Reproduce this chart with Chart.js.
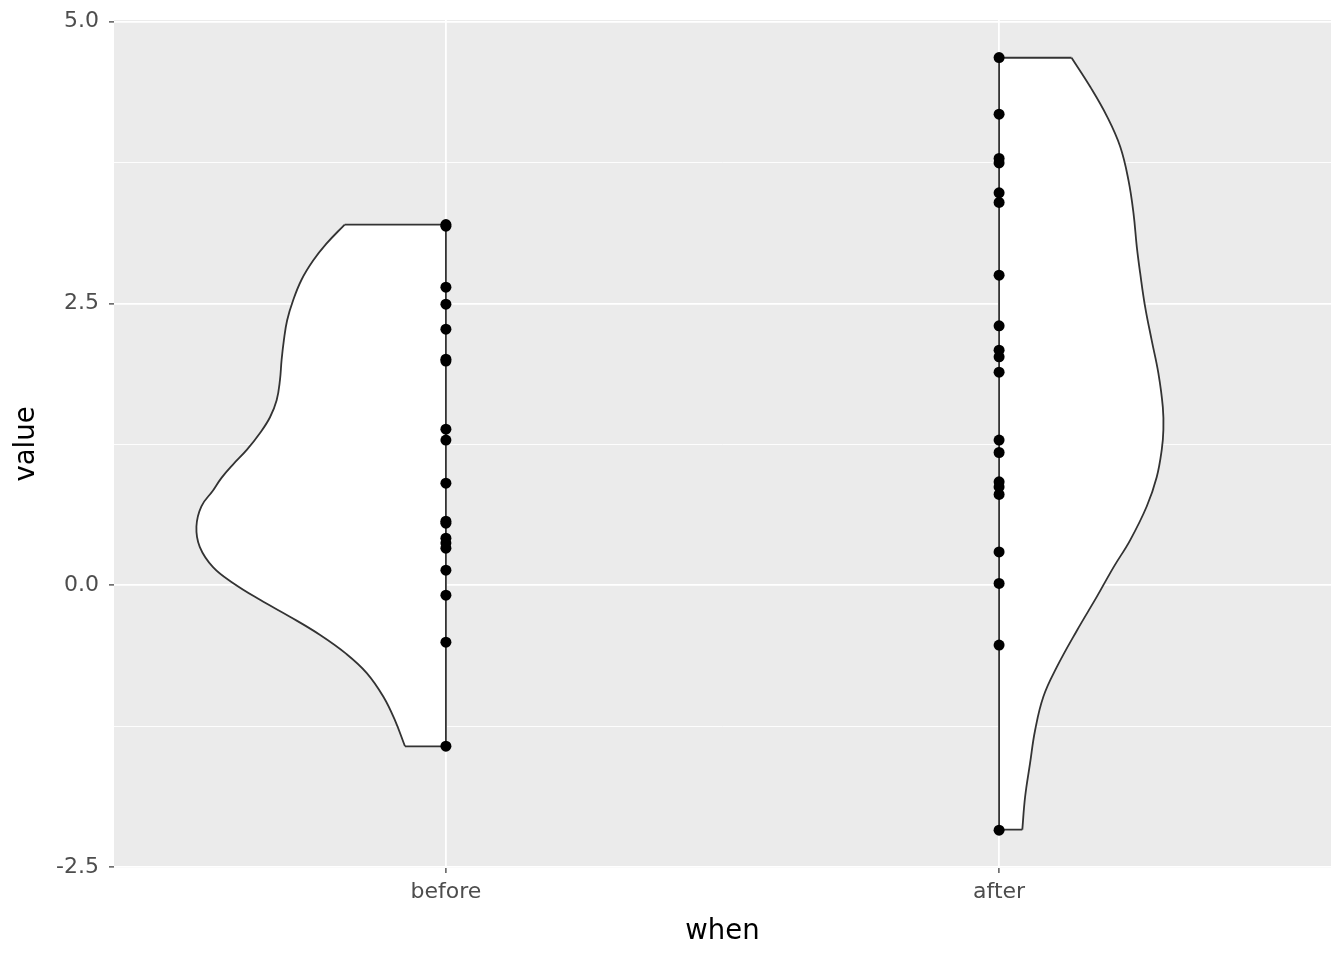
<!DOCTYPE html>
<html>
<head>
<meta charset="utf-8">
<script src="https://cdn.jsdelivr.net/npm/chart.js@4.4.0/dist/chart.umd.min.js"></script>
<style>
    html, body { margin: 0; padding: 0; background: #fff; }
    #wrap { width: 1344px; height: 960px; }
</style>
</head>
<body>
<div id="wrap"><canvas id="chart" width="1344" height="960"></canvas></div>
<script>
const categories = ['before', 'after']

// raw points
const beforeValues = [3.20, 3.185, 2.644, 2.493, 2.271, 2.005, 1.988, 1.384, 1.287, 0.905,
    0.568, 0.550, 0.417, 0.373, 0.328, 0.133, -0.089, -0.506, -1.429]
const afterValues = [4.682, 4.179, 3.786, 3.747, 3.481, 3.396, 2.751, 2.301, 2.085, 2.026,
    1.890, 1.287, 1.177, 0.917, 0.872, 0.805, 0.295, 0.015, -0.532, -2.174]

// half violin outlines (value, half width in category units), top to bottom
const beforeOutlineY = [3.20, 3.03, 2.88, 2.71, 2.53, 2.35, 2.17, 2.00, 1.82, 1.64, 1.49, 1.35, 1.20, 1.07,
    0.95, 0.84, 0.70, 0.52, 0.34, 0.16, 0.02, -0.13, -0.28, -0.44, -0.61, -0.78, -0.99, -1.20, -1.43]
const beforeOutlineW = [0.183, 0.216, 0.240, 0.261, 0.276, 0.287, 0.293, 0.297, 0.300, 0.306, 0.318, 0.336, 0.360, 0.385,
    0.406, 0.421, 0.442, 0.451, 0.445, 0.421, 0.385, 0.336, 0.282, 0.228, 0.180, 0.143, 0.113, 0.092, 0.074]
const afterOutlineY = [4.68, 4.42, 4.16, 3.89, 3.59, 3.30, 3.00, 2.77, 2.47, 2.17, 1.88, 1.58, 1.38,
    1.20, 0.96, 0.70, 0.40, 0.16, -0.10, -0.40, -0.73, -0.99, -1.29, -1.58, -1.88, -2.17]
const afterOutlineW = [0.131, 0.165, 0.195, 0.219, 0.234, 0.243, 0.249, 0.255, 0.264, 0.276, 0.288, 0.296, 0.297,
    0.294, 0.285, 0.267, 0.237, 0.207, 0.177, 0.141, 0.104, 0.080, 0.065, 0.056, 0.047, 0.042]

const yMajorTicks = [-2.5, 0, 2.5, 5]
const yMinorTicks = [-1.25, 1.25, 3.75]

const lineColor = '#333333'

function curvePoints(pos, side, ys, ws){
    return ys.map((y, i) => ({x: pos + side * ws[i], y: y}))
}

// closed shape: centre top -> curve -> centre bottom -> back up
function halfViolin(pos, side, ys, ws){
    let pts = [{x: pos, y: ys[0]}]
    pts = pts.concat(curvePoints(pos, side, ys, ws))
    pts.push({x: pos, y: ys[ys.length - 1]})
    pts.push({x: pos, y: ys[0]})
    return pts
}

// flat top, centre line and flat bottom
function straightEdges(pos, side, ys, ws){
    const n = ys.length - 1
    return [
        {x: pos + side * ws[0], y: ys[0]},
        {x: pos, y: ys[0]},
        {x: pos, y: ys[n]},
        {x: pos + side * ws[n], y: ys[n]}
    ]
}

function isMajor(v){
    return yMajorTicks.some(t => Math.abs(t - v) < 1e-6)
}

const panelBg = {
    id: 'panelBg',
    beforeDraw(chart){
        const {ctx, chartArea: a} = chart
        ctx.save()
        ctx.fillStyle = '#EBEBEB'
        ctx.fillRect(a.left, a.top, a.right - a.left, a.bottom - a.top)
        ctx.restore()
    }
}

const font = 'DejaVu Sans'

function fillDataset(label, pos, side, ys, ws){
    return {
        label: label,
        data: halfViolin(pos, side, ys, ws),
        showLine: true,
        fill: 'shape',
        backgroundColor: '#ffffff',
        borderColor: 'rgba(0,0,0,0)',
        borderWidth: 1,
        pointRadius: 0,
        tension: 0,
        order: 4
    }
}

function edgeDataset(label, pos, side, ys, ws){
    return {
        label: label,
        data: straightEdges(pos, side, ys, ws),
        showLine: true,
        fill: false,
        borderColor: lineColor,
        borderWidth: 1.8,
        pointRadius: 0,
        tension: 0,
        order: 3
    }
}

function outlineDataset(label, pos, side, ys, ws){
    return {
        label: label,
        data: curvePoints(pos, side, ys, ws),
        showLine: true,
        fill: false,
        borderColor: lineColor,
        borderWidth: 1.8,
        pointRadius: 0,
        tension: 0.4,
        order: 2
    }
}

const pointStyle = {
    backgroundColor: '#000000',
    borderWidth: 0,
    pointRadius: 5.5,
    order: 1
}

function noPadding(s){
    s.paddingTop = 0
    s.paddingBottom = 0
    s.paddingLeft = 0
    s.paddingRight = 0
}

let ctx = document.getElementById('chart').getContext('2d')
let chart = new Chart(ctx, {
    type: 'scatter',
    data: {
        datasets: [
            {...pointStyle, label: 'before', data: beforeValues.map(v => ({x: 1, y: v}))},
            {...pointStyle, label: 'after', data: afterValues.map(v => ({x: 2, y: v}))},
            outlineDataset('before outline', 1, -1, beforeOutlineY, beforeOutlineW),
            outlineDataset('after outline', 2, 1, afterOutlineY, afterOutlineW),
            edgeDataset('before edges', 1, -1, beforeOutlineY, beforeOutlineW),
            edgeDataset('after edges', 2, 1, afterOutlineY, afterOutlineW),
            fillDataset('before violin', 1, -1, beforeOutlineY, beforeOutlineW),
            fillDataset('after violin', 2, 1, afterOutlineY, afterOutlineW)
        ]
    },
    options: {
        responsive: false,
        animation: false,
        devicePixelRatio: 1,
        layout: {padding: {top: 20, right: 13, left: 0, bottom: 0}},
        plugins: {
            legend: {display: false},
            tooltip: {enabled: false}
        },
        scales: {
            x: {
                type: 'linear',
                min: 0.4,
                max: 2.6,
                afterBuildTicks: s => { s.ticks = categories.map((c, i) => ({value: i + 1})) },
                afterFit: s => { s.height = 92; noPadding(s) },
                ticks: {
                    callback: v => categories[Math.round(v) - 1],
                    color: '#4D4D4D',
                    font: {family: font, size: 22},
                    padding: 6,
                    autoSkip: false,
                    maxRotation: 0
                },
                grid: {color: '#ffffff', lineWidth: 1.8, tickColor: lineColor, tickWidth: 1.2, tickLength: 5},
                border: {display: false},
                title: {
                    display: true,
                    text: 'when',
                    color: '#000000',
                    font: {family: font, size: 27.5},
                    padding: {top: 0, bottom: 12}
                }
            },
            y: {
                type: 'linear',
                min: -2.51,
                max: 5.015,
                afterBuildTicks: s => {
                    s.ticks = yMajorTicks.concat(yMinorTicks).sort((a, b) => a - b).map(v => ({value: v}))
                },
                afterFit: s => { s.width = 114; noPadding(s) },
                ticks: {
                    callback: v => isMajor(v) ? v.toFixed(1) : '',
                    color: '#4D4D4D',
                    font: {family: font, size: 22},
                    padding: 10,
                    autoSkip: false
                },
                grid: {
                    color: '#ffffff',
                    lineWidth: c => isMajor(c.tick.value) ? 1.8 : 0.9,
                    tickColor: c => isMajor(c.tick.value) ? lineColor : 'rgba(0,0,0,0)',
                    tickWidth: 1.2,
                    tickLength: 5
                },
                border: {display: false},
                title: {
                    display: true,
                    text: 'value',
                    color: '#000000',
                    font: {family: font, size: 27.5},
                    padding: {top: 10, bottom: 0}
                }
            }
        }
    },
    plugins: [panelBg]
})
</script>
</body>
</html>
